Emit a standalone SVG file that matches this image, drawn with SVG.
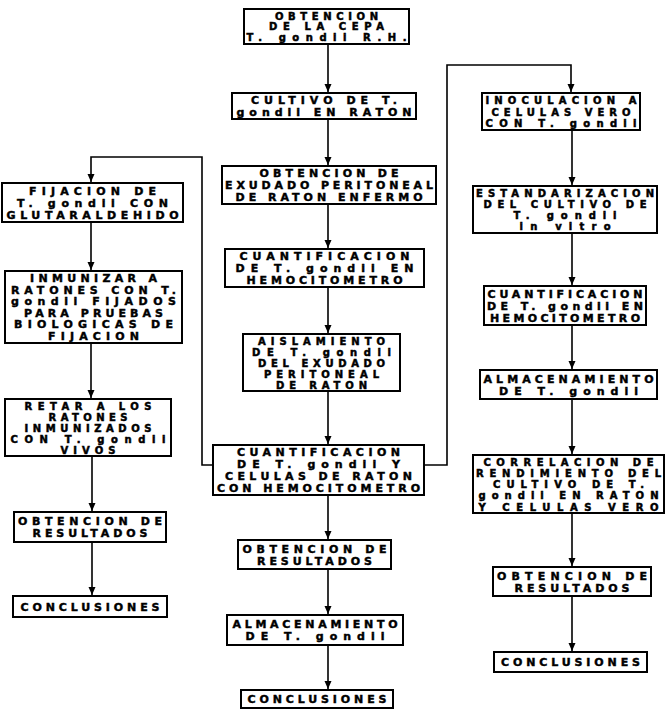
<svg xmlns="http://www.w3.org/2000/svg" width="665" height="710" viewBox="0 0 665 710">
<style>
.b{fill:#fff;stroke:#000;stroke-width:2}
.t{font-family:"DejaVu Sans","Liberation Sans",sans-serif;font-size:11px;font-weight:bold;text-anchor:middle;fill:#000;stroke:#000;stroke-width:0.45}
.s{font-size:10px;stroke-width:0.5}
.c{fill:none;stroke:#000;stroke-width:1.6}
</style>
<defs>
<marker id="ah" viewBox="0 0 8 10" refX="8" refY="5" markerWidth="8" markerHeight="10" markerUnits="userSpaceOnUse" orient="auto">
<path d="M0,1.5 L8,5 L0,8.5 Z" fill="#000"/>
</marker>
</defs>
<rect width="665" height="710" fill="#fff"/>
<g id="connectors">
<line class="c" x1="328" y1="44" x2="328" y2="92" marker-end="url(#ah)"/>
<line class="c" x1="328" y1="119" x2="328" y2="165" marker-end="url(#ah)"/>
<line class="c" x1="328" y1="204" x2="328" y2="248" marker-end="url(#ah)"/>
<line class="c" x1="328" y1="287" x2="328" y2="333" marker-end="url(#ah)"/>
<line class="c" x1="328" y1="391" x2="328" y2="444" marker-end="url(#ah)"/>
<line class="c" x1="328" y1="495" x2="328" y2="539" marker-end="url(#ah)"/>
<line class="c" x1="328" y1="569" x2="328" y2="614" marker-end="url(#ah)"/>
<line class="c" x1="328" y1="645" x2="328" y2="689" marker-end="url(#ah)"/>
<polyline class="c" points="213,465 202,465 202,157 91,157 91,182" marker-end="url(#ah)"/>
<line class="c" x1="91" y1="222" x2="91" y2="270" marker-end="url(#ah)"/>
<line class="c" x1="91" y1="343" x2="91" y2="398" marker-end="url(#ah)"/>
<line class="c" x1="92" y1="456" x2="92" y2="511" marker-end="url(#ah)"/>
<line class="c" x1="92" y1="542" x2="92" y2="595" marker-end="url(#ah)"/>
<polyline class="c" points="424,465 447,465 447,65 571,65 571,92" marker-end="url(#ah)"/>
<line class="c" x1="572" y1="130" x2="572" y2="185" marker-end="url(#ah)"/>
<line class="c" x1="572" y1="233" x2="572" y2="285" marker-end="url(#ah)"/>
<line class="c" x1="572" y1="325" x2="572" y2="369" marker-end="url(#ah)"/>
<line class="c" x1="572" y1="399" x2="572" y2="454" marker-end="url(#ah)"/>
<line class="c" x1="572" y1="513" x2="572" y2="566" marker-end="url(#ah)"/>
<line class="c" x1="572" y1="596" x2="572" y2="651" marker-end="url(#ah)"/>
</g>
<g id="n1"><rect class="b" x="244" y="9" width="165" height="35"/>
<text class="t s" x="326.5" y="19.5" textLength="103" lengthAdjust="spacing">OBTENCION</text><text class="t s" x="326.5" y="30.3" textLength="115" lengthAdjust="spacing">DE LA CEPA</text><text class="t s" x="326.5" y="41" textLength="160" lengthAdjust="spacing">T. gondii R.H.</text></g>
<g id="n2"><rect class="b" x="232" y="93" width="184" height="26"/>
<text class="t" x="324" y="104.3" textLength="146" lengthAdjust="spacing">CULTIVO DE T.</text><text class="t" x="324" y="115.8" textLength="175" lengthAdjust="spacing">gondii EN RATON</text></g>
<g id="n3"><rect class="b" x="222" y="166" width="214" height="38"/>
<text class="t" x="329" y="177.3" textLength="139" lengthAdjust="spacing">OBTENCION DE</text><text class="t" x="329" y="189" textLength="208" lengthAdjust="spacing">EXUDADO PERITONEAL</text><text class="t" x="329" y="200.7" textLength="187" lengthAdjust="spacing">DE RATON ENFERMO</text></g>
<g id="n4"><rect class="b" x="225" y="249" width="199" height="38"/>
<text class="t" x="324.5" y="260.3" textLength="170" lengthAdjust="spacing">CUANTIFICACION</text><text class="t" x="324.5" y="272" textLength="178" lengthAdjust="spacing">DE T. gondii EN</text><text class="t" x="324.5" y="283.7" textLength="156" lengthAdjust="spacing">HEMOCITOMETRO</text></g>
<g id="n5"><rect class="b" x="243" y="334" width="157" height="57"/>
<text class="t s" x="321.5" y="344.6" textLength="127" lengthAdjust="spacing">AISLAMIENTO</text><text class="t s" x="321.5" y="355.6" textLength="139" lengthAdjust="spacing">DE T. gondii</text><text class="t s" x="321.5" y="366.6" textLength="127" lengthAdjust="spacing">DEL EXUDADO</text><text class="t s" x="321.5" y="377.6" textLength="115" lengthAdjust="spacing">PERITONEAL</text><text class="t s" x="321.5" y="388.6" textLength="91" lengthAdjust="spacing">DE RATON</text></g>
<g id="n6"><rect class="b" x="213" y="445" width="211" height="50"/>
<text class="t" x="318.5" y="456.4" textLength="163" lengthAdjust="spacing">CUANTIFICACION</text><text class="t" x="318.5" y="468.1" textLength="163" lengthAdjust="spacing">DE T. gondii Y</text><text class="t" x="318.5" y="479.9" textLength="187" lengthAdjust="spacing">CELULAS DE RATON</text><text class="t" x="318.5" y="491.6" textLength="203" lengthAdjust="spacing">CON HEMOCITOMETRO</text></g>
<g id="n7"><rect class="b" x="2" y="183" width="181" height="39"/>
<text class="t" x="92.5" y="194.5" textLength="127" lengthAdjust="spacing">FIJACION DE</text><text class="t" x="92.5" y="206.5" textLength="151" lengthAdjust="spacing">T. gondii CON</text><text class="t" x="92.5" y="218.5" textLength="172" lengthAdjust="spacing">GLUTARALDEHIDO</text></g>
<g id="n8"><rect class="b" x="5" y="271" width="177" height="72"/>
<text class="t" x="93.5" y="282.3" textLength="127" lengthAdjust="spacing">INMUNIZAR A</text><text class="t" x="93.5" y="293.8" textLength="165" lengthAdjust="spacing">RATONES CON T.</text><text class="t" x="93.5" y="305.3" textLength="165" lengthAdjust="spacing">gondii FIJADOS</text><text class="t" x="93.5" y="316.8" textLength="139" lengthAdjust="spacing">PARA PRUEBAS</text><text class="t" x="93.5" y="328.3" textLength="159" lengthAdjust="spacing">BIOLOGICAS DE</text><text class="t" x="93.5" y="339.8" textLength="91" lengthAdjust="spacing">FIJACION</text></g>
<g id="n9"><rect class="b" x="5" y="399" width="166" height="57"/>
<text class="t s" x="88" y="409.6" textLength="127" lengthAdjust="spacing">RETAR A LOS</text><text class="t s" x="88" y="420.6" textLength="79" lengthAdjust="spacing">RATONES</text><text class="t s" x="88" y="431.6" textLength="127" lengthAdjust="spacing">INMUNIZADOS</text><text class="t s" x="88" y="442.6" textLength="155" lengthAdjust="spacing">CON T. gondii</text><text class="t s" x="88" y="453.6" textLength="55" lengthAdjust="spacing">VIVOS</text></g>
<g id="n10"><rect class="b" x="14" y="512" width="152" height="30"/>
<text class="t" x="90" y="525" textLength="144" lengthAdjust="spacing">OBTENCION DE</text><text class="t" x="90" y="537" textLength="115" lengthAdjust="spacing">RESULTADOS</text></g>
<g id="n11"><rect class="b" x="13" y="596" width="154" height="21"/>
<text class="t" x="90" y="610.5" textLength="139" lengthAdjust="spacing">CONCLUSIONES</text></g>
<g id="n12"><rect class="b" x="238" y="540" width="153" height="29"/>
<text class="t" x="314.5" y="552.5" textLength="144" lengthAdjust="spacing">OBTENCION DE</text><text class="t" x="314.5" y="564.5" textLength="115" lengthAdjust="spacing">RESULTADOS</text></g>
<g id="n13"><rect class="b" x="227" y="615" width="176" height="30"/>
<text class="t" x="315" y="628" textLength="165" lengthAdjust="spacing">ALMACENAMIENTO</text><text class="t" x="315" y="640" textLength="139" lengthAdjust="spacing">DE T. gondii</text></g>
<g id="n14"><rect class="b" x="241" y="690" width="152" height="18"/>
<text class="t" x="317" y="703" textLength="139" lengthAdjust="spacing">CONCLUSIONES</text></g>
<g id="n15"><rect class="b" x="482" y="93" width="158" height="37"/>
<text class="t s" x="561" y="104" textLength="151" lengthAdjust="spacing">INOCULACION A</text><text class="t s" x="561" y="115.5" textLength="139" lengthAdjust="spacing">CELULAS VERO</text><text class="t s" x="561" y="127" textLength="151" lengthAdjust="spacing">CON T. gondii</text></g>
<g id="n16"><rect class="b" x="473" y="186" width="184" height="47"/>
<text class="t s" x="565" y="196.8" textLength="178" lengthAdjust="spacing">ESTANDARIZACION</text><text class="t s" x="565" y="208" textLength="163" lengthAdjust="spacing">DEL CULTIVO DE</text><text class="t s" x="565" y="219.2" textLength="103" lengthAdjust="spacing">T. gondii</text><text class="t s" x="565" y="230.4" textLength="91" lengthAdjust="spacing">in vitro</text></g>
<g id="n17"><rect class="b" x="484" y="286" width="162" height="39"/>
<text class="t" x="565" y="297.5" textLength="155" lengthAdjust="spacing">CUANTIFICACION</text><text class="t" x="565" y="309.5" textLength="156" lengthAdjust="spacing">DE T. gondii EN</text><text class="t" x="565" y="321.5" textLength="150" lengthAdjust="spacing">HEMOCITOMETRO</text></g>
<g id="n18"><rect class="b" x="480" y="370" width="177" height="29"/>
<text class="t" x="568.5" y="382.5" textLength="170" lengthAdjust="spacing">ALMACENAMIENTO</text><text class="t" x="568.5" y="394.5" textLength="139" lengthAdjust="spacing">DE T. gondii</text></g>
<g id="n19"><rect class="b" x="473" y="455" width="191" height="58"/>
<text class="t s" x="568.5" y="465.7" textLength="170" lengthAdjust="spacing">CORRELACION DE</text><text class="t s" x="568.5" y="476.9" textLength="185" lengthAdjust="spacing">RENDIMIENTO DEL</text><text class="t s" x="568.5" y="488.1" textLength="151" lengthAdjust="spacing">CULTIVO DE T.</text><text class="t s" x="568.5" y="499.3" textLength="180" lengthAdjust="spacing">gondii EN RATON</text><text class="t s" x="568.5" y="510.5" textLength="180" lengthAdjust="spacing">Y CELULAS VERO</text></g>
<g id="n20"><rect class="b" x="493" y="567" width="158" height="29"/>
<text class="t" x="572" y="579.5" textLength="150" lengthAdjust="spacing">OBTENCION DE</text><text class="t" x="572" y="591.5" textLength="115" lengthAdjust="spacing">RESULTADOS</text></g>
<g id="n21"><rect class="b" x="494" y="652" width="153" height="20"/>
<text class="t" x="570.5" y="666" textLength="139" lengthAdjust="spacing">CONCLUSIONES</text></g>
</svg>
